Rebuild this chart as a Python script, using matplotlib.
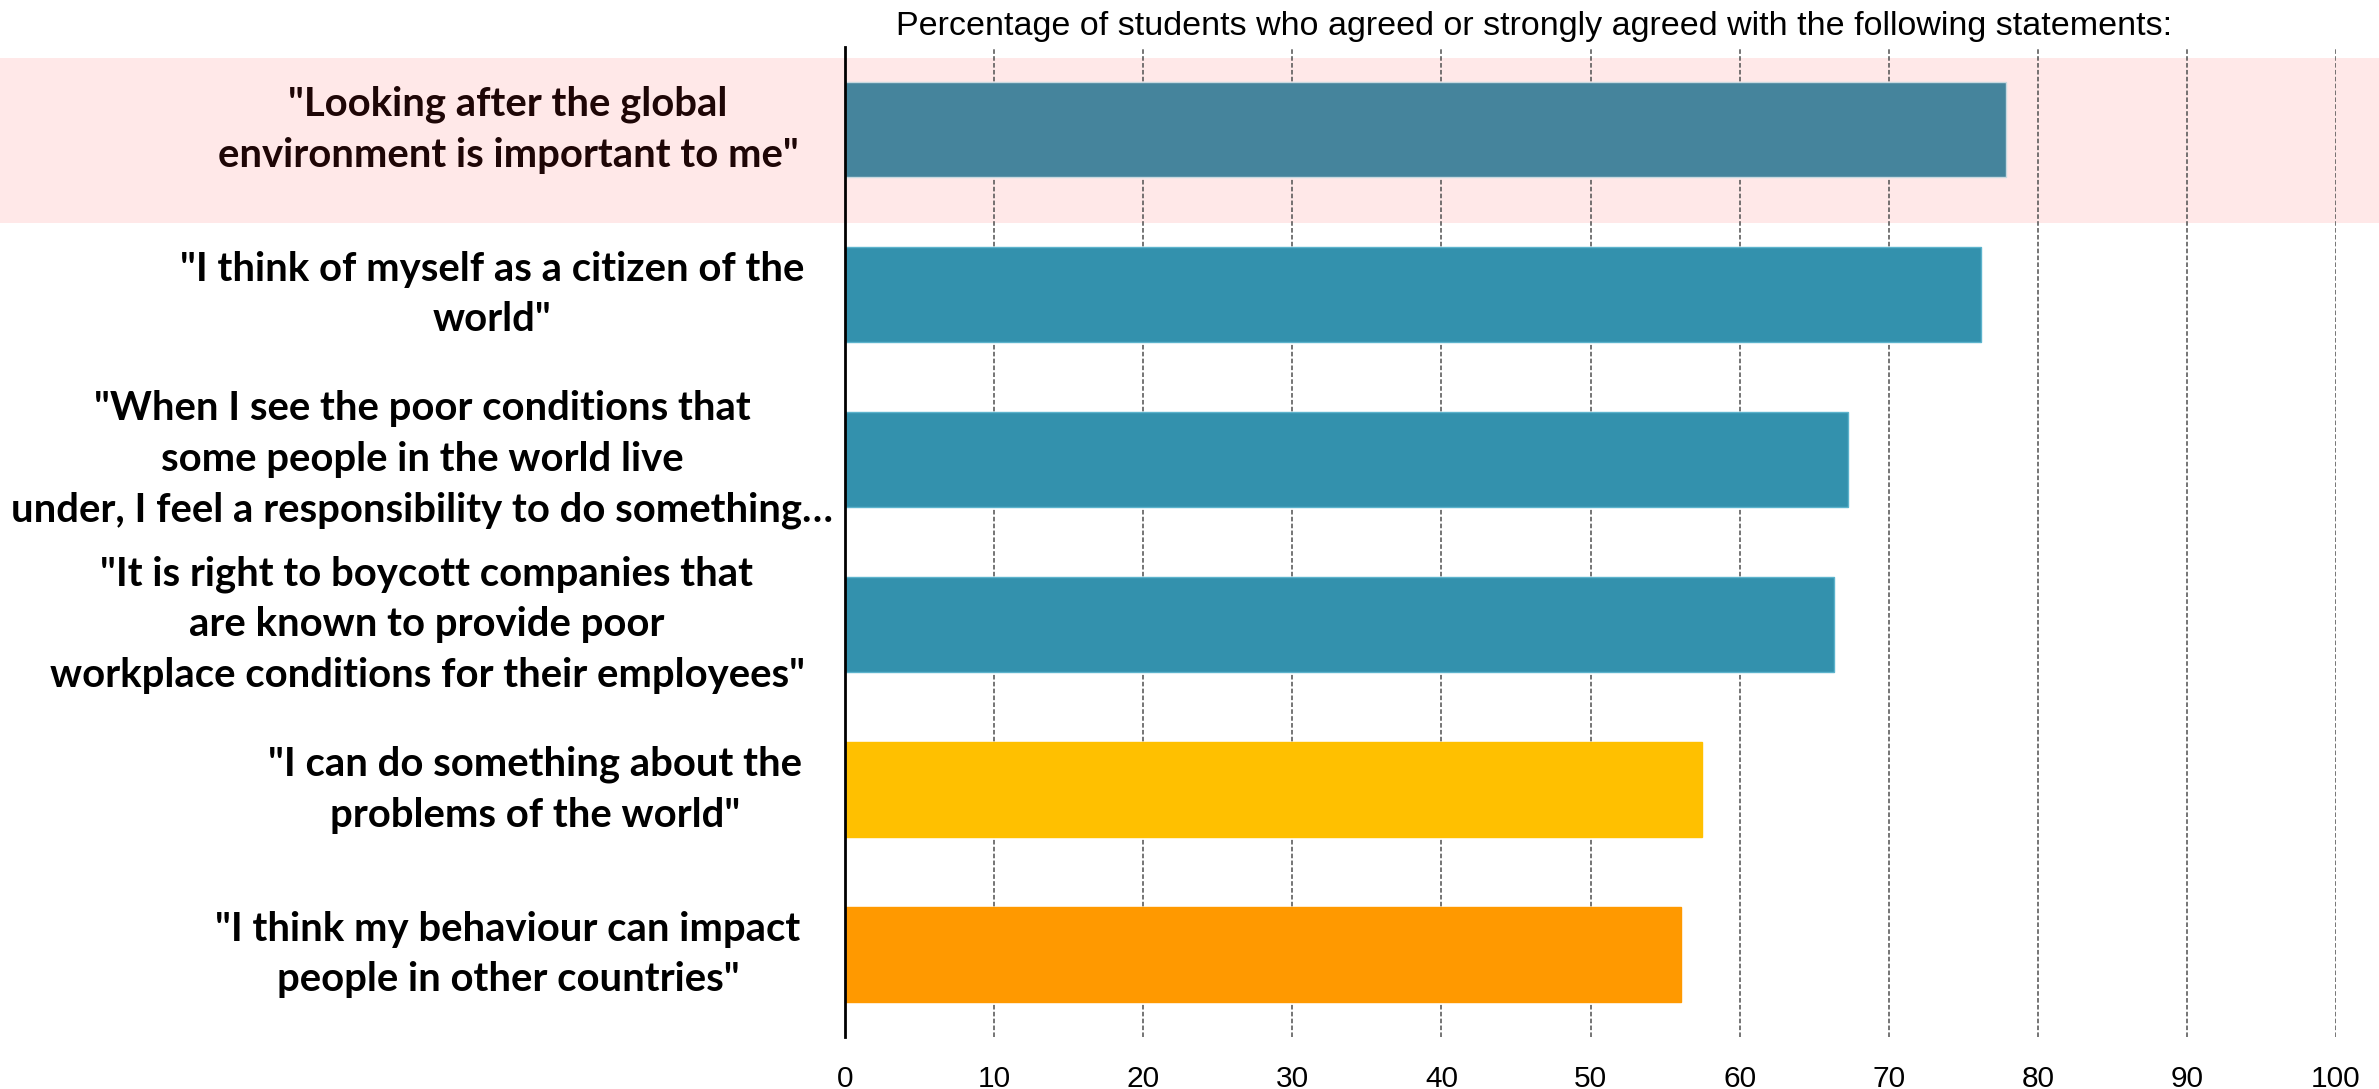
import matplotlib
matplotlib.use("Agg")
import matplotlib.pyplot as plt
from matplotlib.patches import Rectangle
from matplotlib.transforms import blended_transform_factory

# Survey statements (top to bottom) and share of students agreeing, in %
statements = [
    '"Looking after the global\nenvironment is important to me"',
    '"I think of myself as a citizen of the\nworld"',
    '"When I see the poor conditions that\nsome people in the world live\nunder, I feel a responsibility to do something\u2026',
    '"It is right to boycott companies that\nare known to provide poor\nworkplace conditions for their employees"',
    '"I can do something about the\nproblems of the world"',
    '"I think my behaviour can impact\npeople in other countries"',
]
agree_pct = [77.9, 76.2, 67.3, 66.3, 57.5, 56.1]
x_ticks = [0, 10, 20, 30, 40, 50, 60, 70, 80, 90, 100]

bar_colors = ["#45849C", "#3391AD", "#3391AD", "#3391AD", "#FFC000", "#FF9900"]
edge_colors = ["#C9D9E0", "#5CB3CC", "#5CB3CC", "#5CB3CC", "#FFC000", "#FF9900"]
label_colors = ["#1E0606", "black", "black", "black", "black", "black"]
# horizontal centre of each statement label, in figure pixels
label_centres = [508, 492, 422, 427, 535, 508]

W, H = 2379, 1089
fig = plt.figure(figsize=(W / 100, H / 100), dpi=100)
ax = fig.add_axes([845 / W, 52 / H, (2336 - 845) / W, (1037 - 47) / H])
ax.set_facecolor("none")

y = list(range(len(statements)))
ax.barh(y, agree_pct, height=0.57, color=bar_colors, edgecolor=edge_colors,
        linewidth=1, zorder=3)

ax.set_xlim(0, 100)
ax.set_ylim(len(statements) - 0.5, -0.5)
ax.set_xticks(x_ticks)
ax.set_xticklabels([str(t) for t in x_ticks], fontsize=21.5,
                   fontfamily="Liberation Sans")
ax.set_yticks([])
ax.tick_params(axis="x", length=0, pad=20.5)

for t in x_ticks[1:]:
    ax.axvline(t, color="#505050", linewidth=1.1, linestyle=(0, (3, 1.5)),
               zorder=2)

for side in ["top", "right", "bottom"]:
    ax.spines[side].set_visible(False)
ax.spines["left"].set_linewidth(2)
ax.spines["left"].set_color("black")
ax.spines["left"].set_zorder(4)

# highlight band across the whole figure behind the first statement
band_tf = blended_transform_factory(fig.transFigure, ax.transData)
ax.add_patch(Rectangle((0, -0.433), 1, 1.0, transform=band_tf,
                       facecolor="#FFE8E8", edgecolor="none",
                       clip_on=False, zorder=0))

for i, text in enumerate(statements):
    ax.text(label_centres[i] / W, i, text, transform=band_tf,
            ha="center", va="center", multialignment="center",
            fontsize=28.8, fontweight="bold", fontfamily="Lato",
            color=label_colors[i], linespacing=1.45, clip_on=False)

fig.text(896 / W, 1 - 27 / H,
         "Percentage of students who agreed or strongly agreed with the following statements:",
         ha="left", va="center", fontsize=24.5, fontfamily="Liberation Sans",
         color="black")

fig.savefig("out.png", dpi=100, facecolor="white")
